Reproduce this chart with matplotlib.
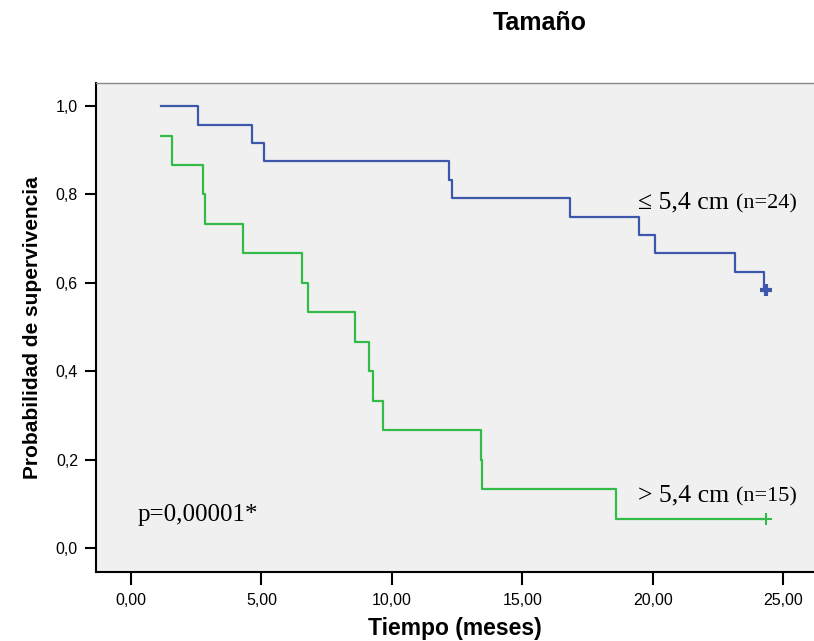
import matplotlib
matplotlib.use("Agg")
import matplotlib.pyplot as plt

# Kaplan-Meier: tiempo (meses) y probabilidad de supervivencia
BLUE_T = [1.15, 2.55, 4.64, 5.08, 12.18, 12.30, 16.83, 19.46, 20.08, 23.15, 24.26, 24.35]
BLUE_S = [1.000, 0.958, 0.917, 0.875, 0.833, 0.792, 0.750, 0.708, 0.667, 0.625, 0.583, 0.583]
BLUE_CENS_T = [24.35]
BLUE_CENS_S = [0.583]

GREEN_T = [1.15, 1.59, 2.77, 2.83, 4.29, 6.55, 6.78, 8.60, 9.12, 9.26, 9.64, 13.41, 13.45, 18.58, 24.35]
GREEN_S = [0.933, 0.867, 0.800, 0.733, 0.667, 0.600, 0.533, 0.467, 0.400, 0.333, 0.267, 0.200, 0.133, 0.067, 0.067]
GREEN_CENS_T = [24.35]
GREEN_CENS_S = [0.067]

X_TICKS = [0, 5, 10, 15, 20, 25]
X_LABELS = ["0,00", "5,00", "10,00", "15,00", "20,00", "25,00"]
Y_TICKS = [0.0, 0.2, 0.4, 0.6, 0.8, 1.0]
Y_LABELS = ["0,0", "0,2", "0,4", "0,6", "0,8", "1,0"]

BLUE = "#3c57ab"
GREEN = "#33bb47"

fig = plt.figure(figsize=(8.14, 6.41), dpi=100)
ax = fig.add_axes([96 / 814, 1 - 572 / 641, 1 - 96 / 814, (572 - 83) / 641])
ax.set_facecolor("#f0f0f0")

ax.plot(BLUE_T, BLUE_S, drawstyle="steps-post", color=BLUE, lw=1.6)
ax.plot(BLUE_CENS_T, BLUE_CENS_S, ls="none", marker="+", ms=9, mew=3, color=BLUE)
ax.plot(GREEN_T, GREEN_S, drawstyle="steps-post", color=GREEN, lw=1.6)
ax.plot(GREEN_CENS_T, GREEN_CENS_S, ls="none", marker="+", ms=9, mew=1.5, color=GREEN)

ax.set_xlim(-1.34, 26.17)
ax.set_ylim(-0.054, 1.052)

sans = "Liberation Sans"
ax.set_xticks(X_TICKS)
ax.set_xticklabels(X_LABELS, fontsize=11.5, family=sans)
ax.set_yticks(Y_TICKS)
ax.set_yticklabels(Y_LABELS, fontsize=11.5, family=sans)
ax.tick_params(axis="x", direction="out", length=9, width=1.5, pad=6)
ax.tick_params(axis="y", direction="out", length=8, width=1.5, pad=5)

for s in ["left", "bottom"]:
    ax.spines[s].set_linewidth(1.5)
    ax.spines[s].set_color("black")
ax.spines["top"].set_color("#888888")
ax.spines["top"].set_linewidth(1.0)
ax.spines["right"].set_visible(False)

ax.set_ylabel("Probabilidad de supervivencia", fontsize=15, fontweight="bold", family=sans, labelpad=10)
fig.text(455 / 814, 1 - 628 / 641, "Tiempo (meses)", ha="center", va="center",
         fontsize=16.5, fontweight="bold", family=sans)
fig.text(540 / 814, 1 - 23 / 641, "Tamaño", ha="center", va="center",
         fontsize=18, fontweight="bold", family=sans)

serif = "Liberation Serif"
ax.annotate("≤ 5,4 cm", (19.43, 0.769), fontsize=18.5, family=serif, va="baseline")
ax.annotate("(n=24)", (23.2, 0.769), fontsize=16, family=serif, va="baseline")
ax.annotate("> 5,4 cm", (19.43, 0.106), fontsize=18.5, family=serif, va="baseline")
ax.annotate("(n=15)", (23.2, 0.106), fontsize=16, family=serif, va="baseline")
ax.annotate("p=0,00001*", (0.27, 0.062), fontsize=18, family=serif, va="baseline")

fig.savefig("out.png", dpi=100)
